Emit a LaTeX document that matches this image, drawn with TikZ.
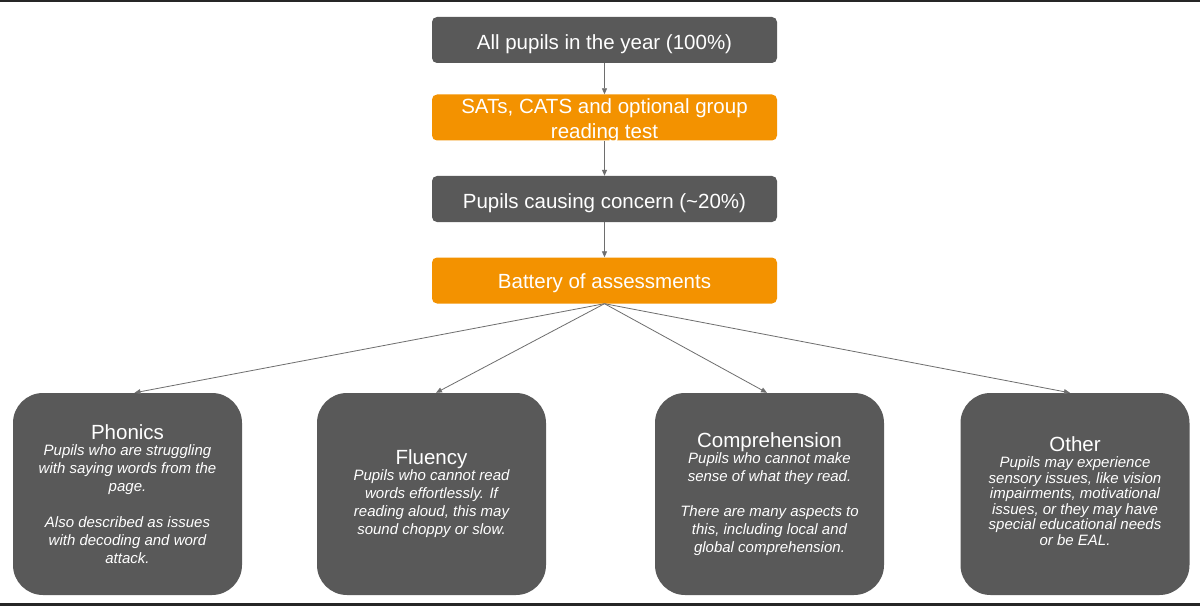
\documentclass[tikz,border=0pt]{standalone}
\usepackage{fontspec}
\setmainfont{Liberation Sans}
\usetikzlibrary{arrows.meta,calc}
\definecolor{dgray}{HTML}{595959}
\definecolor{orng}{HTML}{F39200}
\definecolor{lgray}{HTML}{6E6E6E}
\tikzset{
  topbox/.style={rounded corners=5pt, minimum width=345pt, minimum height=46pt, inner sep=2pt, text=white, font=\fontsize{20.5}{25}\selectfont, align=center},
  darkbox/.style={topbox, fill=dgray},
  orbox/.style={topbox, fill=orng},
  toptext/.style={text=white, align=center, inner sep=0pt, font=\fontsize{20.5}{25}\selectfont},
  catbox/.style={rounded corners=30pt, fill=dgray, minimum width=229pt, minimum height=202pt, text=white, align=center, inner sep=2pt, font=\fontsize{15}{18}\selectfont\itshape},
  cattext/.style={text=white, align=center, inner sep=0pt, font=\fontsize{15}{15.5}\selectfont\itshape},
  arr/.style={draw=lgray, line width=0.8pt, -{Triangle[length=6pt,width=5pt]}}
}
\newcommand{\ttlfont}{\fontsize{20.5}{22}\selectfont\upshape}
\begin{document}
\begin{tikzpicture}[x=1pt,y=-1pt]
\useasboundingbox (0,0) rectangle (1200,607);
\fill[white] (0,0) rectangle (1200,607);
\fill[black!85] (0,0) rectangle (1200,2.5);
\fill[black!85] (0,603) rectangle (1200,605.5);

\node[darkbox] (all) at (604.5,40) {\rule{0pt}{23pt}All pupils in the year (100\%)};
\node[orbox] (sats) at (604.5,117.5) {};
\node[toptext] (satstext) at (604.5,120.5) {SATs, CATS and optional group\\reading test};
\node[darkbox] (concern) at (604.5,199) {\rule{0pt}{24pt}Pupils causing concern (\textasciitilde 20\%)};
\node[orbox] (battery) at (604.5,280.5) {\rule{0pt}{21pt}Battery of assessments};

\node[catbox] (phon) at (127.5,494) {{\ttlfont Phonics}\\[-2pt]
Pupils who are struggling\\with saying words from the\\page.\\[18pt]Also described as issues\\with decoding and word\\attack.};
\node[catbox] (flu) at (431.5,494) {{\ttlfont Fluency}\\[-2pt]
Pupils who cannot read\\words effortlessly. If\\reading aloud, this may\\sound choppy or slow.};
\node[catbox] (comp) at (769.5,494) {{\ttlfont Comprehension}\\[-2pt]
Pupils who cannot make\\sense of what they read.\\[17pt]There are many aspects to\\this, including local and\\global comprehension.};
\node[catbox] (oth) at (1075,494) {};
\node[cattext] (othtext) at (1075,491) {{\ttlfont Other}\\[1pt]
Pupils may experience\\sensory issues, like vision\\impairments, motivational\\issues, or they may have\\special educational needs\\or be EAL.};

\draw[arr] (all) -- (sats);
\draw[arr] (sats) -- (concern);
\draw[arr] (concern) -- (battery);
\draw[arr] (battery.south) -- ($(phon.north)+(7,0)$);
\draw[arr] (battery.south) -- ($(flu.north)+(4.5,0)$);
\draw[arr] (battery.south) -- ($(comp.north)+(-2.5,0)$);
\draw[arr] (battery.south) -- ($(oth.north)+(-5,0)$);
\end{tikzpicture}
\end{document}
